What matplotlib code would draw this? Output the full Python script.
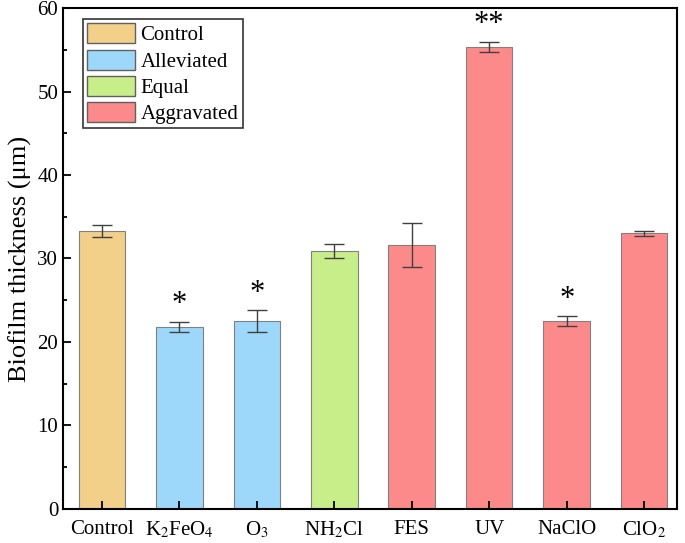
import matplotlib
matplotlib.use("Agg")
import matplotlib.pyplot as plt
from matplotlib.patches import Patch

plt.rcParams["font.family"] = ["Liberation Serif", "DejaVu Serif"]
plt.rcParams["mathtext.fontset"] = "stix"

labels = ["Control", r"K$_2$FeO$_4$", r"O$_3$", r"NH$_2$Cl", "FES", "UV", "NaClO", r"ClO$_2$"]
values = [33.3, 21.8, 22.5, 30.9, 31.6, 55.4, 22.5, 33.0]
errors = [0.7, 0.6, 1.3, 0.8, 2.6, 0.6, 0.6, 0.3]
groups = ["Control", "Alleviated", "Alleviated", "Equal", "Aggravated", "Aggravated", "Aggravated", "Aggravated"]
marks = ["", "*", "*", "", "", "**", "*", ""]

group_names = ["Control", "Alleviated", "Equal", "Aggravated"]
group_colors = {"Control": "#F2D08A", "Alleviated": "#9DD8FA",
                "Equal": "#C8EE8A", "Aggravated": "#FD8A8A"}

fig, ax = plt.subplots(figsize=(6.85, 5.43), dpi=100)
fig.subplots_adjust(left=0.092, right=0.988, top=0.985, bottom=0.063)

x = list(range(len(labels)))
ax.bar(x, values, width=0.6, color=[group_colors[g] for g in groups],
       edgecolor="#808080", linewidth=0.8,
       yerr=errors, capsize=7, error_kw=dict(ecolor="#404040", elinewidth=1, capthick=1))

for xi, v, e, m in zip(x, values, errors, marks):
    if m:
        ax.text(xi, v + e + 0.3, m, ha="center", va="bottom", fontsize=22)

ax.set_xlim(-0.5, 7.42)
ax.set_ylim(0, 60)
ax.set_xticks(x)
ax.set_xticklabels(labels)
ax.set_yticks(range(0, 61, 10))
ax.set_yticks(range(5, 60, 10), minor=True)
ax.tick_params(axis="both", direction="in", labelsize=15, width=1.3, length=6)
ax.tick_params(axis="y", which="minor", direction="in", width=1.3, length=3)
ax.tick_params(axis="x", pad=8)
for s in ax.spines.values():
    s.set_linewidth(1.5)
ax.set_ylabel("Biofilm thickness (μm)", fontsize=19, labelpad=4)

handles = [Patch(facecolor=group_colors[g], edgecolor="#606060", label=g) for g in group_names]
leg = ax.legend(handles=handles, loc="upper left", bbox_to_anchor=(0.033, 0.978),
                fontsize=15, frameon=True, fancybox=False, handlelength=2.3,
                handleheight=1.1, handletextpad=0.25, labelspacing=0.2,
                borderpad=0.2, borderaxespad=0)
leg.get_frame().set_edgecolor("black")
leg.get_frame().set_linewidth(1.2)

fig.savefig("out.png", dpi=100)
